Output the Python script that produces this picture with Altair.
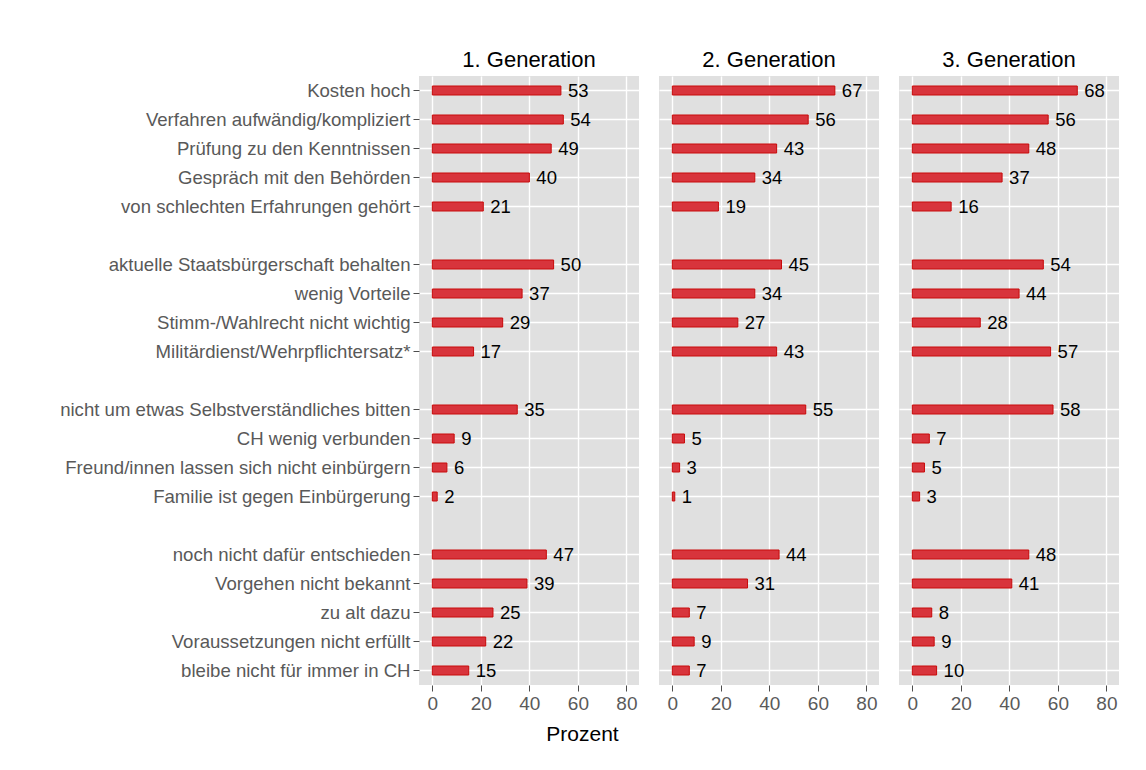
import altair as alt
import pandas as pd

categories = [
    "Kosten hoch",
    "Verfahren aufwändig/kompliziert",
    "Prüfung zu den Kenntnissen",
    "Gespräch mit den Behörden",
    "von schlechten Erfahrungen gehört",
    "__gap1",
    "aktuelle Staatsbürgerschaft behalten",
    "wenig Vorteile",
    "Stimm-/Wahlrecht nicht wichtig",
    "Militärdienst/Wehrpflichtersatz*",
    "__gap2",
    "nicht um etwas Selbstverständliches bitten",
    "CH wenig verbunden",
    "Freund/innen lassen sich nicht einbürgern",
    "Familie ist gegen Einbürgerung",
    "__gap3",
    "noch nicht dafür entschieden",
    "Vorgehen nicht bekannt",
    "zu alt dazu",
    "Voraussetzungen nicht erfüllt",
    "bleibe nicht für immer in CH",
]

generations = ["1. Generation", "2. Generation", "3. Generation"]

gen1 = [53, 54, 49, 40, 21, 50, 37, 29, 17, 35, 9, 6, 2, 47, 39, 25, 22, 15]
gen2 = [67, 56, 43, 34, 19, 45, 34, 27, 43, 55, 5, 3, 1, 44, 31, 7, 9, 7]
gen3 = [68, 56, 48, 37, 16, 54, 44, 28, 57, 58, 7, 5, 3, 48, 41, 8, 9, 10]

x_ticks = [0, 20, 40, 60, 80]

real_cats = [c for c in categories if not c.startswith("__gap")]
rows = []
for g, vals in zip(generations, [gen1, gen2, gen3]):
    for c, v in zip(real_cats, vals):
        rows.append({"gen": g, "cat": c, "value": v})
df = pd.DataFrame(rows)

FONT = "Liberation Sans"
gap_test = "indexof(datum.value, '__gap') == 0"


def panel(gen, first):
    base = alt.Chart(df).transform_filter(alt.datum.gen == gen)
    if first:
        yaxis = alt.Axis(
            title=None,
            labelExpr="indexof(datum.value, '__gap') == 0 ? '' : datum.value",
            labelFontSize=18.6,
            labelColor="#595959",
            labelFont=FONT,
            labelPadding=3,
            labelLimit=500,
            tickSize=6,
            tickColor="#4d4d4d",
            tickOpacity={"condition": {"test": gap_test, "value": 0}, "value": 1},
            grid=True,
            gridColor="white",
            gridWidth=1.4,
            gridOpacity={"condition": {"test": gap_test, "value": 0}, "value": 1},
            domain=False,
            minExtent=400,
            maxExtent=400,
        )
    else:
        yaxis = alt.Axis(
            title=None,
            labels=False,
            ticks=False,
            grid=True,
            gridColor="white",
            gridWidth=1.4,
            gridOpacity={"condition": {"test": gap_test, "value": 0}, "value": 1},
            domain=False,
        )
    xaxis = alt.Axis(
        values=x_ticks,
        title="Prozent" if first else None,
        titleFontSize=21,
        titleColor="black",
        titleFontWeight="normal",
        titleFont=FONT,
        titlePadding=10,
        titleX=163,
        labelFontSize=19,
        labelColor="#5a5a5a",
        labelFont=FONT,
        labelPadding=3,
        tickSize=6,
        tickColor="#4d4d4d",
        grid=True,
        gridColor="white",
        gridWidth=1.4,
        domain=False,
    )
    x = alt.X("value:Q", scale=alt.Scale(domain=[-5.5, 85.2], nice=False, zero=False), axis=xaxis)
    y = alt.Y("cat:N", sort=categories,
              scale=alt.Scale(domain=categories, paddingInner=0, paddingOuter=0),
              axis=yaxis)
    bars = base.mark_bar(size=9, fill="#d8343c", stroke="#c80a0a", strokeWidth=1).encode(
        x=x, x2=alt.datum(0), y=y
    )
    text = base.mark_text(align="left", baseline="middle", dx=7, fontSize=18.5,
                          font=FONT, color="black").encode(
        x=alt.X("value:Q"), y=alt.Y("cat:N", sort=categories), text=alt.Text("value:Q")
    )
    return alt.layer(bars, text).properties(
        width=220, height=609,
        title=alt.TitleParams(gen, fontSize=22, font=FONT, color="black",
                              fontWeight="normal", offset=4, anchor="middle"),
    )


chart = alt.hconcat(
    panel(generations[0], True),
    panel(generations[1], False),
    panel(generations[2], False),
    spacing=20,
).properties(
    padding={"left": 11, "top": 41, "right": 5, "bottom": 5},
    background="white",
).configure_view(
    fill="#e0e0e0", strokeWidth=0
)

chart.save("out.html", embed_options={"renderer": "svg", "actions": False})
